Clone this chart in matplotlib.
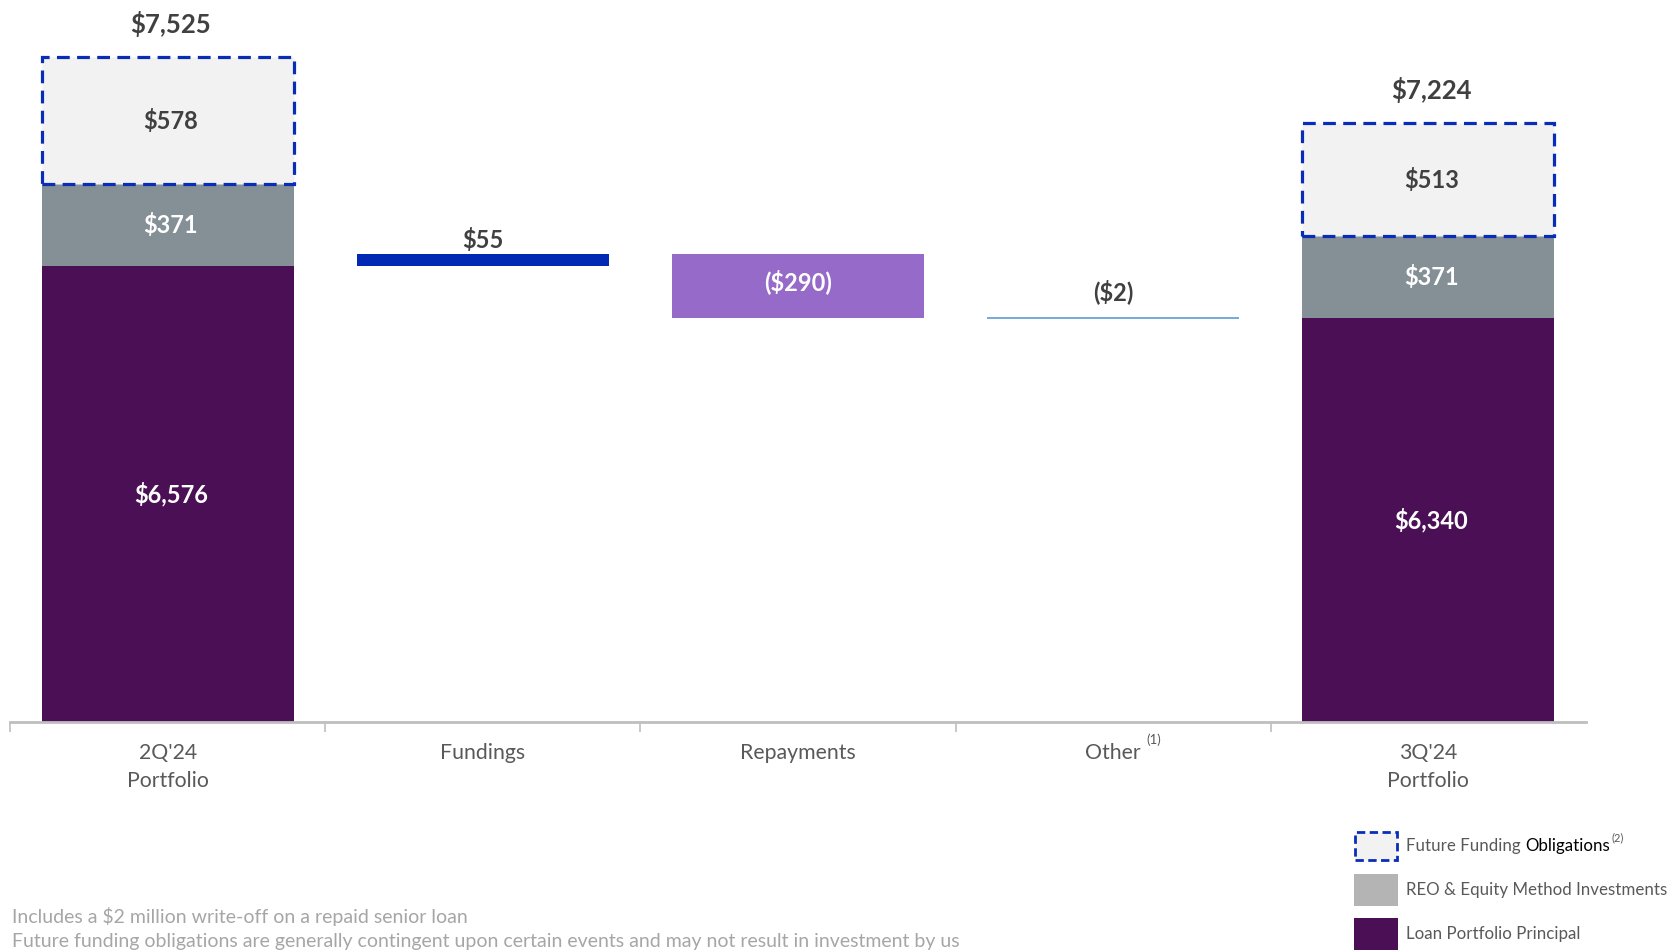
import matplotlib.pyplot as plt
from matplotlib.patches import Rectangle

plt.rcParams["font.family"] = ["Lato", "DejaVu Sans"]

# valores em US$ milhões
categorias = ["2Q'24\nPortfolio", "Fundings", "Repayments", "Other", "3Q'24\nPortfolio"]
principal = [6576, 6340]
reo = [371, 371]
futuro = [578, 513]
variacoes = [55, -290, -2]
rotulos_var = ["$55", "($290)", "($2)"]
cores_var = ["#0229B3", "#966AC8", "#5B9BD5"]

legenda = ["Future Funding Obligations", "REO & Equity Method Investments", "Loan Portfolio Principal"]
notas = [
    "Includes a $2 million write-off on a repaid senior loan",
    "Future funding obligations are generally contingent upon certain events and may not result in investment by us",
]

ROXO = "#4A0F54"
CINZA = "#858F96"
FUTURO = "#F2F2F2"
AZUL = "#0A2DB8"
TEXTO = "#404040"
FS = 17

fig = plt.figure(figsize=(16.7, 9.5), dpi=100)
ax = fig.add_axes([10 / 1670, 228 / 950, 1576 / 1670, 722 / 950])

x_port = [0, 4]
largura = 0.8

ax.bar(x_port, principal, width=largura, color=ROXO, zorder=2)
ax.bar(x_port, reo, bottom=principal, width=largura, color=CINZA, zorder=2)
base_fut = [p + r for p, r in zip(principal, reo)]
ax.bar(x_port, futuro, bottom=base_fut, width=largura, color=FUTURO,
       edgecolor=AZUL, linewidth=2.3, linestyle=(0, (4, 2.3)), zorder=3)

# cascata sobre o principal
nivel = principal[0]
for i, (v, rot, cor) in enumerate(zip(variacoes, rotulos_var, cores_var)):
    x = i + 1
    fim = nivel + v
    baixo = min(nivel, fim)
    if abs(v) < 10:
        ax.bar(x, abs(v), bottom=baixo, width=largura, color=cor,
               edgecolor=cor, linewidth=1.2, zorder=2)
        ax.annotate(rot, (x, fim), xytext=(0, 19), textcoords="offset points",
                    ha="center", va="center", fontsize=FS, fontweight="bold", color=TEXTO)
    elif v > 0:
        ax.bar(x, v, bottom=baixo, width=largura, color=cor, zorder=2)
        ax.annotate(rot, (x, fim), xytext=(0, 10), textcoords="offset points",
                    ha="center", va="center", fontsize=FS, fontweight="bold", color=TEXTO)
    else:
        ax.bar(x, -v, bottom=baixo, width=largura, color=cor, zorder=2)
        ax.text(x, baixo - v / 2 + 20, rot, ha="center", va="center",
                fontsize=FS, fontweight="bold", color="white")
    nivel = fim

# rótulos das barras de carteira
for x, p, r, f, b in zip(x_port, principal, reo, futuro, base_fut):
    xt = x + 0.01
    ax.text(xt, p - (p - 4506) / 2, f"${p:,}", ha="center", va="center",
            fontsize=FS, fontweight="bold", color="white")
    ax.text(xt, p + r / 2, f"${r:,}", ha="center", va="center",
            fontsize=FS, fontweight="bold", color="white")
    ax.text(xt, b + f / 2, f"${f:,}", ha="center", va="center",
            fontsize=FS, fontweight="bold", color=TEXTO)
    ax.annotate(f"${b + f:,}", (xt, b + f), xytext=(0, 24), textcoords="offset points",
                ha="center", va="center", fontsize=18.5, fontweight="bold", color=TEXTO,
                annotation_clip=False)

ax.set_xlim(-0.5, 4.5)
ax.set_ylim(4506, 4506 + 722 / 0.2203)
for lado in ["top", "right", "left"]:
    ax.spines[lado].set_visible(False)
ax.spines["bottom"].set_color("#BFBFBF")
ax.spines["bottom"].set_linewidth(2)
ax.set_yticks([])

ax.set_xticks(range(len(categorias)))
ax.set_xticklabels(categorias, fontsize=15.3, color="#595959", linespacing=1.5)
ax.tick_params(axis="x", length=0, pad=15)
ax.set_xticks([-0.5, 0.5, 1.5, 2.5, 3.5], minor=True)
ax.tick_params(axis="x", which="minor", length=7, width=1.2, color="#BFBFBF", direction="out")

ax.annotate("(1)", (3, 0), xycoords=("data", "axes fraction"), xytext=(24, -13),
            textcoords="offset points", ha="left", va="center", fontsize=9.5, color="#595959")

# legenda desenhada à mão
cores_leg = [FUTURO, "#B4B4B4", ROXO]
ys = [846, 890, 934]
for nome, cor, y in zip(legenda, cores_leg, ys):
    if cor == FUTURO:
        fig.patches.append(Rectangle((1355 / 1670, (950 - y - 14) / 950), 42 / 1670, 28 / 950,
                                     transform=fig.transFigure, facecolor=cor, edgecolor=AZUL,
                                     linewidth=2, linestyle=(0, (3, 1.6))))
    else:
        fig.patches.append(Rectangle((1354 / 1670, (950 - y - 16) / 950), 44 / 1670, 32 / 950,
                                     transform=fig.transFigure, facecolor=cor, edgecolor="none"))
    if cor == FUTURO:
        t = fig.text(1406 / 1670, (950 - y) / 950, "Future Funding ", fontsize=12.2,
                     color="#595959", va="center")
        t2 = fig.text(0, 0, "Obligations", fontsize=12.2, color="black", va="center")
        fig.canvas.draw()
        bb = t.get_window_extent()
        t2.set_position((bb.x1 / 1670, (950 - y) / 950))
        bb2 = t2.get_window_extent()
        fig.text(bb2.x1 / 1670 + 0.001, (950 - y + 8) / 950, "(2)", fontsize=8,
                 color="#595959", va="center")
    else:
        fig.text(1406 / 1670, (950 - y) / 950, nome, fontsize=12.2, color="#595959", va="center")

for i, nota in enumerate(notas):
    fig.text(12 / 1670, (950 - 916 - 25 * i) / 950, nota, fontsize=14, color="#A6A6A6", va="center")

fig.savefig("out.png", dpi=100)
